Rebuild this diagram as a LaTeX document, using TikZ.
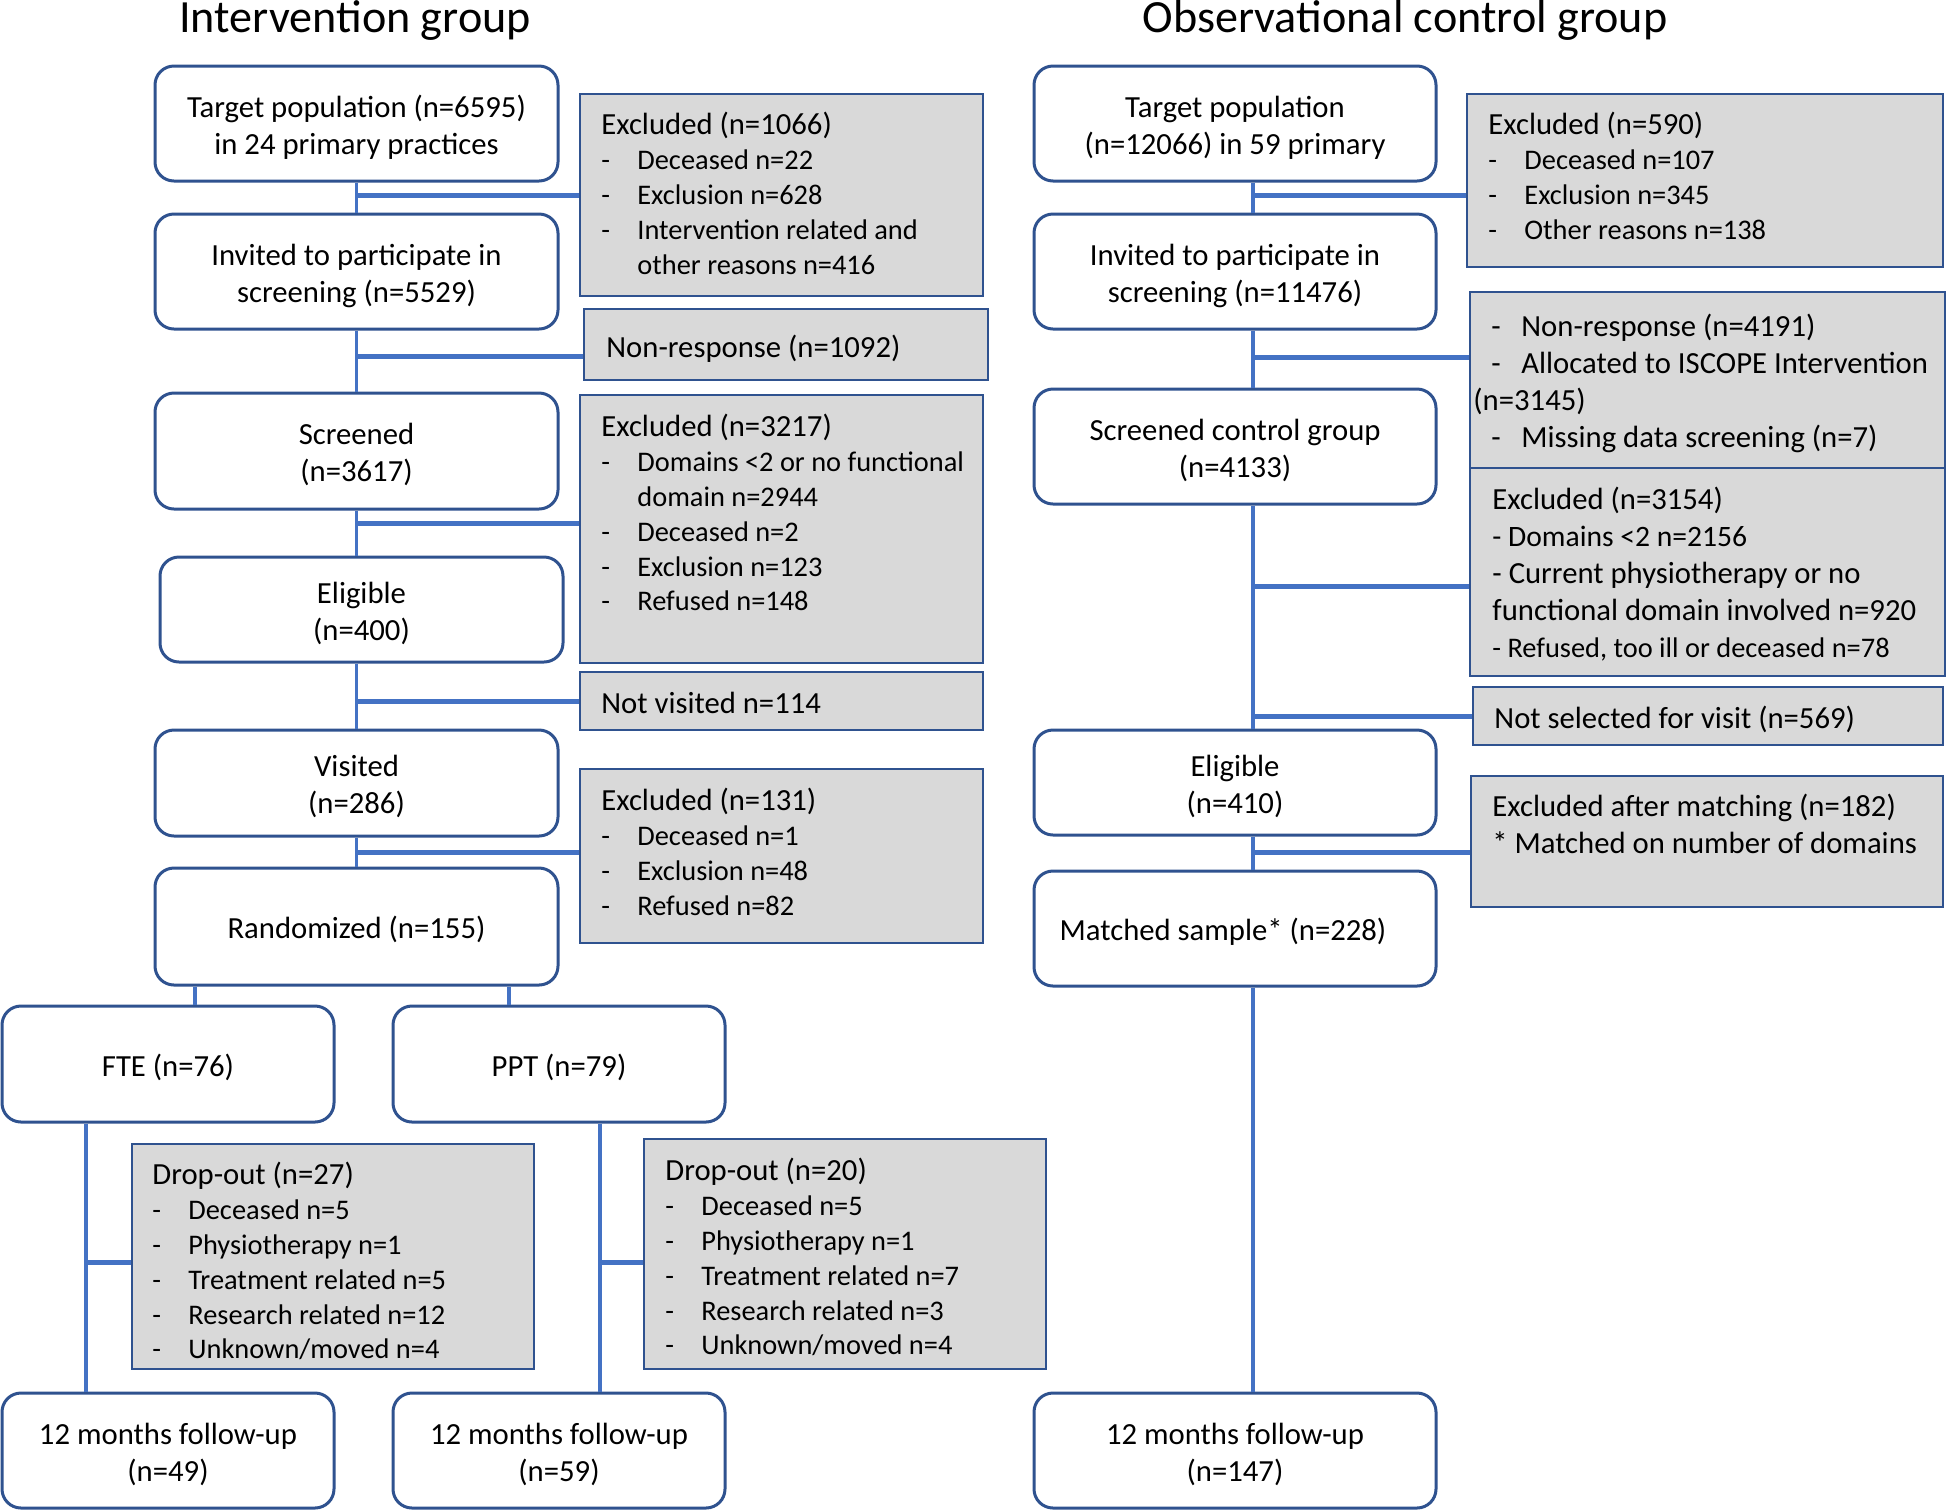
\documentclass[tikz,border=0pt]{standalone}
\usepackage{fontspec}
\setmainfont{Carlito}
\definecolor{bordc}{RGB}{47,82,143}
\definecolor{linec}{RGB}{68,114,196}
\definecolor{greyf}{RGB}{217,217,217}
\tikzset{
 mainbox/.style={draw=bordc, line width=1.5pt, rounded corners=9.5pt, fill=white, align=center, font=\fontsize{15.35}{18.5}\selectfont, inner sep=0pt},
 greybox/.style={draw=bordc, line width=1.3pt, fill=greyf, inner sep=0pt},
 greytxt/.style={anchor=north west, inner sep=0pt, align=left, font=\fontsize{15.35}{17.4}\selectfont},
 greytxtw/.style={anchor=north west, inner sep=0pt, align=left, font=\fontsize{15.35}{18.5}\selectfont},
 conn/.style={draw=linec, line width=1.6pt},
 branch/.style={draw=linec, line width=2.5pt},
 titletxt/.style={anchor=base, inner sep=0pt, font=\fontsize{23.07}{27}\selectfont},
}
\newcommand{\sml}{\fontsize{14.2}{17.4}\selectfont}
\newcommand{\dsh}{\makebox[18pt][l]{-}}
\newcommand{\itm}[1]{{\sml\dsh #1}}
\newcommand{\itc}[1]{{\sml\hspace*{18pt}#1}}
\newcommand{\dshr}{\hspace*{9pt}\makebox[15pt][l]{-}}
\newcommand{\tstr}{\rule{0pt}{17.2pt}}
\newcommand{\bstr}{\rule[-5pt]{0pt}{5pt}}
\begin{document}
\begin{tikzpicture}[x=0.5pt,y=-0.5pt]
\useasboundingbox (0,0) rectangle (1948,1511);

% titles
\node[titletxt] (tl) at (355,32) {Intervention group};
\node[titletxt] (tr) at (1405,32) {Observational control group};

% left main boxes
\node[mainbox, minimum width=201.5pt, minimum height=57.5pt] (T1) at (356.5,123.5) {\tstr Target population (n=6595)\\in 24 primary practices\bstr};
\node[mainbox, minimum width=201.5pt, minimum height=57.5pt] (I1) at (356.5,271.5) {\tstr Invited to participate in\\screening (n=5529)\bstr};
\node[mainbox, minimum width=201.5pt, minimum height=58pt] (S1) at (356.5,451) {\tstr Screened\\(n=3617)\bstr};
\node[mainbox, minimum width=201.5pt, minimum height=52.5pt] (E1) at (361.5,609.5) {\tstr Eligible\\(n=400)\bstr};
\node[mainbox, minimum width=201.5pt, minimum height=53pt] (V1) at (356.5,783) {\tstr Visited\\(n=286)\bstr};
\node[mainbox, minimum width=201.5pt, minimum height=58.5pt] (R1) at (356.5,926.5) {\tstr Randomized (n=155)\bstr};
\node[mainbox, minimum width=166pt, minimum height=58pt] (FTE) at (168,1064) {\tstr FTE (n=76)\bstr};
\node[mainbox, minimum width=166pt, minimum height=58pt] (PPT) at (559,1064) {\tstr PPT (n=79)\bstr};
\node[mainbox, minimum width=166pt, minimum height=57.5pt] (F1) at (168,1450.5) {\tstr 12 months follow-up\\(n=49)\bstr};
\node[mainbox, minimum width=166pt, minimum height=57.5pt] (F2) at (559,1450.5) {\tstr 12 months follow-up\\(n=59)\bstr};

% right main boxes
\node[mainbox, minimum width=201pt, minimum height=57.5pt] (T2) at (1235,123.5) {\tstr Target population\\(n=12066) in 59 primary\bstr};
\node[mainbox, minimum width=201pt, minimum height=57.5pt] (I2) at (1235,271.5) {\tstr Invited to participate in\\screening (n=11476)\bstr};
\node[mainbox, minimum width=201pt, minimum height=57.5pt] (S2) at (1235,446.5) {\tstr Screened control group\\(n=4133)\bstr};
\node[mainbox, minimum width=201pt, minimum height=52.5pt] (E2) at (1235,782.5) {\tstr Eligible\\(n=410)\bstr};
\node[mainbox, minimum width=201pt, minimum height=57.5pt] (M2) at (1235,928.5) {\tstr\hspace*{-12pt}Matched sample* (n=228)\bstr};
\node[mainbox, minimum width=201pt, minimum height=57.5pt] (F3) at (1235,1450.5) {\tstr 12 months follow-up\\(n=147)\bstr};

% left grey boxes
\node[greybox, minimum width=201.5pt, minimum height=101pt] (G1) at (781.5,195) {};
\node[greytxt] (G1t) at (601,110.1) {\strut Excluded (n=1066)\\\itm{Deceased n=22}\\\itm{Exclusion n=628}\\\itm{Intervention related and}\\\itc{other reasons n=416}};
\node[greybox, minimum width=202pt, minimum height=35.5pt] (G2) at (786,344.5) {};
\node[greytxt] (G2t) at (606,333.1) {\strut Non-response (n=1092)};
\node[greybox, minimum width=201.5pt, minimum height=134pt] (G3) at (781.5,529) {};
\node[greytxt] (G3t) at (601,412.1) {\strut Excluded (n=3217)\\\itm{Domains <2 or no functional}\\\itc{domain n=2944}\\\itm{Deceased n=2}\\\itm{Exclusion n=123}\\\itm{Refused n=148}};
\node[greybox, minimum width=201.5pt, minimum height=29pt] (G4) at (781.5,701) {};
\node[greytxt] (G4t) at (601,689.1) {\strut Not visited n=114};
\node[greybox, minimum width=201.5pt, minimum height=87pt] (G5) at (781.5,856) {};
\node[greytxt] (G5t) at (601,786.1) {\strut Excluded (n=131)\\\itm{Deceased n=1}\\\itm{Exclusion n=48}\\\itm{Refused n=82}};
\node[greybox, minimum width=201pt, minimum height=112.5pt] (D1) at (333,1256.5) {};
\node[greytxt] (D1t) at (152,1160.1) {\strut Drop-out (n=27)\\\itm{Deceased n=5}\\\itm{Physiotherapy n=1}\\\itm{Treatment related n=5}\\\itm{Research related n=12}\\\itm{Unknown/moved n=4}};
\node[greybox, minimum width=201pt, minimum height=115pt] (D2) at (845,1254) {};
\node[greytxt] (D2t) at (665,1156.1) {\strut Drop-out (n=20)\\\itm{Deceased n=5}\\\itm{Physiotherapy n=1}\\\itm{Treatment related n=7}\\\itm{Research related n=3}\\\itm{Unknown/moved n=4}};

% right grey boxes
\node[greybox, minimum width=238pt, minimum height=86.5pt] (H1) at (1705,180.5) {};
\node[greytxt] (H1t) at (1488,110.1) {\strut Excluded (n=590)\\\itm{Deceased n=107}\\\itm{Exclusion n=345}\\\itm{Other reasons n=138}};
\node[greybox, minimum width=237.5pt, minimum height=88pt] (H2) at (1707.5,380) {};
\node[greytxtw] (H2t) at (1473,310.6) {\strut\dshr Non-response (n=4191)\\\dshr Allocated to ISCOPE Intervention\\(n=3145)\\\dshr Missing data screening (n=7)};
\node[greybox, minimum width=237.5pt, minimum height=104pt] (H3) at (1707.5,572) {};
\node[greytxtw] (H3t) at (1492,483.6) {\strut Excluded (n=3154)\\{\fontsize{14.8}{17.4}\selectfont - Domains <2 n=2156}\\- Current physiotherapy or no\\functional domain involved n=920\\{\sml - Refused, too ill or deceased n=78}};
\node[greybox, minimum width=235pt, minimum height=29pt] (H4) at (1708,716) {};
\node[greytxt] (H4t) at (1494,704.1) {\strut Not selected for visit (n=569)};
\node[greybox, minimum width=236pt, minimum height=65.5pt] (H5) at (1707,841.5) {};
\node[greytxtw] (H5t) at (1492,790.6) {\strut Excluded after matching (n=182)\\* Matched on number of domains};

% left spine
\draw[conn] (T1.south) -- (T1.south |- I1.north);
\draw[conn] (I1.south) -- (I1.south |- S1.north);
\draw[conn] (S1.south) -- (S1.south |- E1.north);
\draw[conn] (V1.north |- E1.south) -- (V1.north);
\draw[conn] (V1.south) -- (V1.south |- R1.north);
\draw[branch] (G1.west) -- (G1.west -| T1.south);
\coordinate (bG2) at ([yshift=-6pt]G2.west);
\draw[branch] (bG2) -- (bG2 -| T1.south);
\coordinate (bG3) at ([yshift=3pt]G3.west);
\draw[branch] (bG3) -- (bG3 -| T1.south);
\draw[branch] (G4.west) -- (G4.west -| T1.south);
\coordinate (bG5) at ([yshift=2pt]G5.west);
\draw[branch] (bG5) -- (bG5 -| T1.south);

% randomisation split
\coordinate (rA) at ([xshift=-80.75pt]R1.south);
\draw[conn] (rA) -- (rA |- FTE.north);
\coordinate (rB) at ([xshift=76.25pt]R1.south);
\draw[conn] (rB) -- (rB |- PPT.north);
\coordinate (fA) at ([xshift=-41pt]FTE.south);
\draw[conn] (fA) -- (fA |- F1.north);
\coordinate (bD1) at ([yshift=-2.75pt]D1.west);
\draw[branch] (bD1) -- (bD1 -| fA);
\coordinate (fB) at ([xshift=20.5pt]PPT.south);
\draw[conn] (fB) -- (fB |- F2.north);
\coordinate (bD2) at ([yshift=-4pt]D2.west);
\draw[branch] (bD2) -- (bD2 -| fB);

% right spine
\coordinate (sR) at ([xshift=9pt]T2.south);
\draw[conn] (sR) -- (sR |- I2.north);
\draw[conn] (sR |- I2.south) -- (sR |- S2.north);
\draw[conn] (sR |- S2.south) -- (sR |- E2.north);
\draw[conn] (sR |- E2.south) -- (sR |- M2.north);
\draw[conn] (sR |- M2.south) -- (sR |- F3.north);
\coordinate (bH1) at ([yshift=-7.25pt]H1.west);
\draw[branch] (bH1) -- (bH1 -| sR);
\coordinate (bH2) at ([yshift=11.5pt]H2.west);
\draw[branch] (bH2) -- (bH2 -| sR);
\coordinate (bH3) at ([yshift=-7pt]H3.west);
\draw[branch] (bH3) -- (bH3 -| sR);
\draw[branch] (H4.west) -- (H4.west -| sR);
\coordinate (bH5) at ([yshift=-5.25pt]H5.west);
\draw[branch] (bH5) -- (bH5 -| sR);
\end{tikzpicture}
\end{document}
